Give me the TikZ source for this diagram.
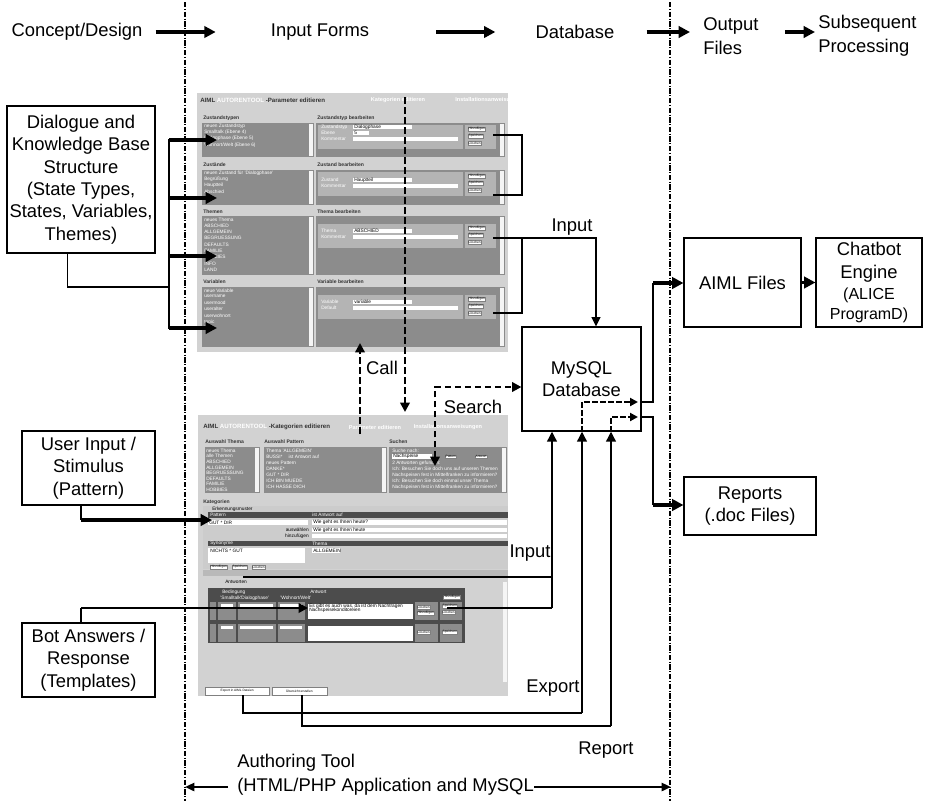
\documentclass[tikz,border=0pt]{standalone}
\usepackage{fontspec}
\setmainfont{Liberation Sans}
\usetikzlibrary{arrows.meta,calc}
\definecolor{scrbg}{HTML}{D2D2D2}
\definecolor{panel}{HTML}{8C8C8C}
\definecolor{innerg}{HTML}{B4B4B4}
\definecolor{dbar}{HTML}{4C4C4C}
\newcommand{\smallbx}{\fontsize{12}{14.5}\selectfont}
\begin{document}
\begin{tikzpicture}[x=0.75pt,y=-0.75pt,
 lbl/.style={font=\fontsize{13.8}{17}\selectfont, inner sep=0pt, align=center},
 bx/.style={draw, line width=0.8pt, fill=white, inner sep=0pt, align=center, font=\fontsize{13.8}{16.8}\selectfont},
 bigarr/.style={line width=2.3pt, -{Triangle[length=8.5pt,width=8.5pt]}},
 conn/.style={line width=0.9pt},
 connarr/.style={line width=1.2pt, -{Triangle[length=7pt,width=6.5pt]}},
 vertarr/.style={line width=2pt, -{Triangle[length=7.5pt,width=7pt]}},
 darr/.style={line width=2pt, dash pattern=on 5pt off 2.5pt, -{Triangle[length=7pt,width=7pt]}},
 darrs/.style={line width=1.6pt, dash pattern=on 4pt off 2pt, -{Triangle[length=6pt,width=6pt]}},
 sepl/.style={line width=0.9pt, dash pattern=on 4pt off 1.2pt on 0.8pt off 1.2pt},
 tx/.style={font=\fontsize{3.6}{4}\selectfont, inner sep=0pt, anchor=west},
 txw/.style={tx, text=white},
 txb/.style={tx, font=\fontsize{3.8}{4}\selectfont\bfseries, text=black!80},
 btn/.style={fill=white, draw=gray, line width=0.2pt, inner sep=0.4pt, font=\fontsize{2.4}{2.6}\selectfont, anchor=west},
 fld/.style={fill=white},
]
\useasboundingbox (0,0) rectangle (925,801);
\fill[white] (0,0) rectangle (925,801);

% separator lines
\draw[sepl] (185,2) -- (185,801);
\draw[sepl] (670,2) -- (670,801);

% top row
\node[lbl] (concept) at (77,32) {Concept/Design};
\node[lbl] (forms) at (320,32) {Input Forms};
\node[lbl] (dbt) at (575,32) {Database};
\node[lbl, align=left, anchor=west] (outf) at (703,36) {Output\\[1pt]Files};
\node[lbl, align=left, anchor=west] (subs) at (818,36) {Subsequent\\[1pt]Processing};
\draw[bigarr] ($(concept.east)+(13,0)$) -- ($(forms.west)+(-55,0)$);
\draw[bigarr] ($(forms.east)+(67,0)$) -- ($(dbt.west)+(-40,0)$);
\draw[bigarr] ($(dbt.east)+(32,0)$) -- ($(dbt.east -| outf.west)+(-13,0)$);
\draw[bigarr] ($(outf.east)+(26,-4)$) -- ($(subs.west)+(-3,-4)$);

% ================= screenshot 1 =================
\begin{scope}
\clip (197,93) rectangle (508,352);
\fill[scrbg] (197,93) rectangle (508,352);
\node[txb, font=\fontsize{4.6}{5}\selectfont\bfseries] (h1a) at (200,100) {AIML \textcolor{white}{AUTORENTOOL} -Parameter editieren};
\node[txw, font=\fontsize{4.2}{5}\selectfont\bfseries, anchor=center] (h1b) at (398,100) {Kategorien editieren};
\node[txw, font=\fontsize{4.2}{5}\selectfont\bfseries, anchor=west] (h1c) at (455,100) {Installationsanweisungen};
\foreach \i/\ly/\pt/\pb/\io/\ll/\rl in {1/118/123/157/0/Zustandstypen/Zustandstyp bearbeiten, 2/165/170/205/0/Zustände/Zustand bearbeiten, 3/212/216/275/6/Themen/Thema bearbeiten, 4/282/287/347/6/Variablen/Variable bearbeiten}{
 \node[txb] (sl\i) at (203,\ly) {\ll};
 \node[txb] (sr\i) at (317,\ly) {\rl};
 \fill[panel] (202,\pt) rectangle (314,\pb);
 \fill[white!92!gray] (308.5,{\pt+1}) rectangle (313,{\pb-1});
 \fill[panel] (316,\pt) rectangle (505,\pb);
 \fill[white!92!gray] (499.5,{\pt+1}) rectangle (504,{\pb-1});
 \fill[innerg] (318,{\pt+2+\io}) rectangle (463,{\pt+26+\io});
 \fill[innerg] (465,{\pt+2+\io}) rectangle (496,{\pt+26+\io});
 \node[btn] (bt\i-1) at (468,{\pt+6+\io}) {Hinzufügen};
 \node[btn] (bt\i-2) at (468,{\pt+13+\io}) {Speichern};
 \node[btn] (bt\i-3) at (468,{\pt+20+\io}) {Löschen};
}
% fields section 1
\node[txw] (f1a) at (321,127) {Zustandstyp};
\node[txw] (f1b) at (321,133) {Ebene};
\node[txw] (f1c) at (321,139) {Kommentar};
\fill[fld] (353,125) rectangle (412,129); \fill[fld] (353,131) rectangle (369,135); \fill[fld] (353,137) rectangle (458,141);
\node[tx] (v1a) at (354,127) {Dialogphase};
\node[tx] (v1b) at (354,133) {5};
% fields section 2
\node[txw] (f2a) at (321,180) {Zustand};
\node[txw] (f2b) at (321,186) {Kommentar};
\fill[fld] (353,178) rectangle (412,182); \fill[fld] (353,184) rectangle (458,188);
\node[tx] (v2a) at (354,180) {Hauptteil};
% fields section 3
\node[txw] (f3a) at (321,231) {Thema};
\node[txw] (f3b) at (321,237) {Kommentar};
\fill[fld] (353,229) rectangle (412,233); \fill[fld] (353,235) rectangle (458,239);
\node[tx] (v3a) at (354,231) {ABSCHIED};
% fields section 4
\node[txw] (f4a) at (321,302) {Variable};
\node[txw] (f4b) at (321,308) {Default};
\fill[fld] (353,300) rectangle (412,304); \fill[fld] (353,306) rectangle (458,310);
\node[tx] (v4a) at (354,302) {variable};
% list items
\foreach[count=\k] \t in {neuen Zustandstyp, Smalltalk (Ebene 4), Dialogphase (Ebene 5), Wohnort/Welt (Ebene 6)}{
 \node[txw] (l1-\k) at (204,{120+6.2*\k}) {\t};}
\foreach[count=\k] \t in {neuen Zustand für 'Dialogphase', Begrüßung, Hauptteil, Abschied}{
 \node[txw] (l2-\k) at (204,{167+6.2*\k}) {\t};}
\foreach[count=\k] \t in {neues Thema, ABSCHIED, ALLGEMEIN, BEGRUESSUNG, DEFAULTS, FAMILIE, HOBBIES, INFO, LAND}{
 \node[txw] (l3-\k) at (204,{213+6.3*\k}) {\t};}
\foreach[count=\k] \t in {neue Variable, username, usermood, useralter, userwohnort, topic, it}{
 \node[txw] (l4-\k) at (204,{284+6.3*\k}) {\t};}
\end{scope}

% ================= screenshot 2 =================
\begin{scope}
\clip (198,415) rectangle (508,696);
\fill[scrbg] (198,415) rectangle (508,696);
\node[txb, font=\fontsize{4.6}{5}\selectfont\bfseries] (h2a) at (203,427) {AIML \textcolor{white}{AUTORENTOOL} -Kategorien editieren};
\node[txw, font=\fontsize{4.2}{5}\selectfont\bfseries, anchor=center] (h2b) at (375,427) {Parameter editieren};
\node[txw, font=\fontsize{4.2}{5}\selectfont\bfseries, anchor=center] (h2c) at (448,427) {Installationsanweisungen};
\node[txb] (a1) at (205,442) {Auswahl Thema};
\node[txb] (a2) at (264,442) {Auswahl Pattern};
\node[txb] (a3) at (389,442) {Suchen};
\fill[panel] (205,447) rectangle (260,493); \fill[white!92!gray] (255,448) rectangle (259,492);
\fill[panel] (264,447) rectangle (387,493); \fill[white!92!gray] (382,448) rectangle (386,492);
\fill[panel] (389,447) rectangle (507,493); \fill[white!92!gray] (502,448) rectangle (506,492);
\foreach[count=\k] \t in {neues Thema, alle Themen, ABSCHIED, ALLGEMEIN, BEGRUESSUNG, DEFAULTS, FAMILIE, HOBBIES}{
 \node[txw] (p1-\k) at (206,{445+5.6*\k}) {\t};}
\foreach[count=\k] \t in {Thema 'ALLGEMEIN', BUSSI* \quad ist Antwort auf, neues Pattern, DANKE*, GUT * DIR, ICH BIN MUEDE, ICH HASSE DICH}{
 \node[txw] (p2-\k) at (266,{445+6*\k}) {\t};}
\node[txw] (s1) at (392,451) {Suche nach:};
\fill[fld] (392,454) rectangle (432,459); \node[tx] (s2) at (393,456.5) {Nachspeise};
\node[btn] (s3) at (445,456.5) {Pattern};
\node[btn] (s4) at (475,456.5) {Antwort};
\node[txw] (s5) at (392,463) {2 Antworten gefunden:};
\node[txw] (s6) at (392,469) {Ich: Besuchen Sie doch uns auf unseren Themen};
\node[txw] (s7) at (392,475) {Nachspeisen fest in Mittelfranken zu informieren?};
\node[txw] (s8) at (392,481) {Ich: Besuchen Sie doch einmal unser Thema};
\node[txw] (s9) at (392,487) {Nachspeisen fest in Mittelfranken zu informieren?};
\node[txb] (k0) at (203,502) {Kategorien};
\fill[gray!40] (203,506) rectangle (508,569);
\node[tx] (k1) at (212,509) {Erkennungsmuster};
\fill[dbar] (208,512) rectangle (508,518);
\node[txw] (k2) at (210,515) {Pattern};
\node[txw] (k3) at (312,515) {ist Antwort auf};
\fill[fld] (208,520) rectangle (308,525); \fill[fld] (312,520) rectangle (507,525);
\node[tx] (k4) at (209,522.5) {GUT * DIR};
\node[tx] (k5) at (313,522.5) {Wie geht es Ihnen heute?};
\fill[fld] (312,528) rectangle (507,532);
\node[tx, anchor=east] (k6) at (309,530) {auswählen};
\node[tx] (k7) at (313,530) {Wie geht es Ihnen heute};
\fill[fld] (312,534) rectangle (507,538);
\node[tx, anchor=east] (k8) at (309,536) {hinzufügen};
\fill[dbar] (208,541) rectangle (508,546);
\node[txw] (k9) at (210,543.5) {Synonyme};
\node[txw] (k10) at (312,543.5) {Thema};
\fill[fld] (208,548) rectangle (305,563);
\node[tx] (k11) at (210,551) {NICHTS * GUT};
\fill[fld] (312,548) rectangle (340,553);
\node[tx] (k12) at (313,550.5) {ALLGEMEIN};
\node[btn] (k13) at (210,567) {Hinzufügen};
\node[btn] (k14) at (232,567) {Speichern};
\node[btn] (k15) at (252,567) {Löschen};
\fill[gray!55] (203,570) rectangle (508,576);
\node[tx] (k16) at (225,582) {Antworten};
\fill[white!92!gray] (503,582) rectangle (507,682);
\fill[dbar] (208,588) rectangle (465,643);
\node[txw] (k17) at (222,592) {Bedingung};
\node[txw] (k18) at (310,592) {Antwort};
\node[txw] (k19) at (220,598) {'Smalltalk'};
\node[txw] (k20) at (240,598) {'Dialogphase'};
\node[txw] (k21) at (280,598) {'Wohnort/Welt'};
\node[btn] (k22) at (443,597) {Hinzufügen};
\foreach \yy in {602,624}{
 \fill[panel] (210,\yy) rectangle (216,{\yy+18});
 \fill[panel] (218,\yy) rectangle (236,{\yy+18});
 \fill[panel] (238,\yy) rectangle (276,{\yy+18});
 \fill[panel] (278,\yy) rectangle (305,{\yy+18});
 \fill[fld] (308,{\yy+2}) rectangle (413,{\yy+17});
 \fill[panel] (415,\yy) rectangle (438,{\yy+18});
 \fill[panel] (440,\yy) rectangle (462,{\yy+18});
 \fill[fld] (221,{\yy+2}) rectangle (233,{\yy+5});
 \fill[fld] (240,{\yy+2}) rectangle (273,{\yy+5});
 \fill[fld] (280,{\yy+2}) rectangle (302,{\yy+5});
}
\node[tx] (k23) at (309,606) {Es gibt es auch was, da ist dem Nachtragen};
\node[tx] (k24) at (309,610) {Nachspeisekonditoreien};
\node[btn] (k25) at (417,607) {Löschen};
\node[btn] (k26) at (417,613) {Hinzufügen};
\node[btn] (k27) at (442,606) {Speichern};
\node[btn] (k28) at (442,612) {Löschen};
\node[btn] (k29) at (417,632) {Löschen};
\node[btn] (k30) at (442,632) {Speichern};
\node[btn, minimum width=48pt, minimum height=6pt] (ex1) at (205,691) {Export in AIML Dateien};
\node[btn, minimum width=41pt, minimum height=6pt] (ex2) at (272,691) {Übersicht erstellen};
\end{scope}

% ================= boxes =================
\node[bx, minimum width=111pt, minimum height=110.25pt] (dial) at (81,179.5) {Dialogue and\\Knowledge Base\\Structure\\(State Types,\\States, Variables,\\Themes)};
\node[bx, minimum width=99.75pt, minimum height=55.5pt] (uin) at (88.5,468) {User Input /\\Stimulus\\(Pattern)};
\node[bx, minimum width=99.75pt, minimum height=55.5pt] (bot) at (88.5,660) {Bot Answers /\\Response\\(Templates)};
\node[bx, minimum width=89.25pt, minimum height=78pt] (mysql) at (581.5,379) {MySQL\\Database};
\node[bx, minimum width=87.75pt, minimum height=66.75pt] (aiml) at (742.5,282.5) {AIML Files};
\node[bx, minimum width=79.5pt, minimum height=66.75pt] (chat) at (869,282.5) {Chatbot\\Engine\\[-1pt]{\smallbx (ALICE}\\[-2pt]{\smallbx ProgramD)}};
\node[bx, minimum width=99pt, minimum height=43.5pt] (reports) at (750,506) {Reports\\(.doc Files)};

% ================= connectors =================
% dialogue structure
\coordinate (dj) at (169,287);
\draw[conn] ($(dial.south west)+(61,0)$) |- (dj);
\draw[line width=1.1pt] (169,139) -- (169,329);
\foreach \yy in {140,198,256,328}{
 \draw[bigarr] (169,\yy) -- (217,\yy);
}
% user input / bot answers
\coordinate (uj) at (81,520);
\coordinate (ut) at (212,520);
\draw[conn] (uin.south -| uj) -- (uj);
\draw[bigarr] (uj) -- (ut);
\coordinate (bj) at (81,608);
\coordinate (bt) at (308,608);
\draw[conn] (bot.north -| bj) -- (bj);
\draw[line width=1.8pt, -{Triangle[length=7pt,width=7pt]}] (bj) -- (bt);

% upper input brackets
\draw[conn] (493,135) -| (522,195) -- (493,195);
\draw[conn] (493,313) -| (522,238);
\coordinate (ij) at (596,238);
\draw[connarr] (493,238) -- (ij) -- (ij |- mysql.north);
\node[lbl] (linput) at (572,227) {Input};

% call
\draw[darr] (405,97) -- (405,412);
\draw[darr] (360,434) -- (360,343);
\node[lbl] (lcall) at (382,368) {Call};

% search
\coordinate (sc) at (435,387);
\draw[darr, {Triangle[length=7pt,width=7pt]}-{Triangle[length=7pt,width=7pt]}] (435,466) -- (sc) -- (sc -| mysql.west);
\node[lbl] (lsearch) at (473,407) {Search};

% lower input
\coordinate (i2) at (552,608);
\draw[conn] (447,608) -- (i2);
\draw[conn] (243,577) -- (552,577);
\draw[vertarr] (i2) -- (i2 |- mysql.south);
\node[lbl] (linput2) at (530,553) {Input};

% export / report
\coordinate (ex) at (582,713);
\coordinate (rp) at (611,726);
\draw[conn] (ex1.south -| 243,0) |- (ex);
\draw[conn] (ex2.south -| 302,0) |- (rp);
\draw[vertarr] (ex) -- (ex |- mysql.south);
\draw[vertarr] (rp) -- (rp |- mysql.south);
\node[lbl] (lexport) at (553,688) {Export};
\node[lbl] (lreport) at (606,750) {Report};

% through database
\coordinate (ed) at (638,402);
\coordinate (rd) at (638,417);
\draw[darrs] (ex |- mysql.south) |- (ed);
\draw[darrs] (rp |- mysql.south) |- (rd);
\coordinate (aj) at (653,283);
\coordinate (rj) at (653,505);
\draw[conn] (mysql.east |- ed) -| (aj);
\draw[conn] (mysql.east |- rd) -| (rj);
\draw[bigarr] (aj) -- (aiml.west |- aj);
\draw[bigarr] (rj) -- (reports.west |- rj);
\draw[bigarr] (aiml.east) -- (chat.west);

% authoring tool
\node[lbl, anchor=west] (auth1) at (237,763) {Authoring Tool};
\node[lbl, anchor=west] (auth2) at (237,787) {(HTML/PHP Application and MySQL};
\coordinate (la) at (185,787);
\coordinate (ra) at (671,787);
\draw[line width=1.8pt, -{Triangle[length=7pt,width=6pt]}] ($(auth2.west)+(-9,0)$) -- (la);
\draw[line width=1.8pt, -{Triangle[length=7pt,width=6pt]}] (auth2.east) -- (ra);
\end{tikzpicture}
\end{document}
